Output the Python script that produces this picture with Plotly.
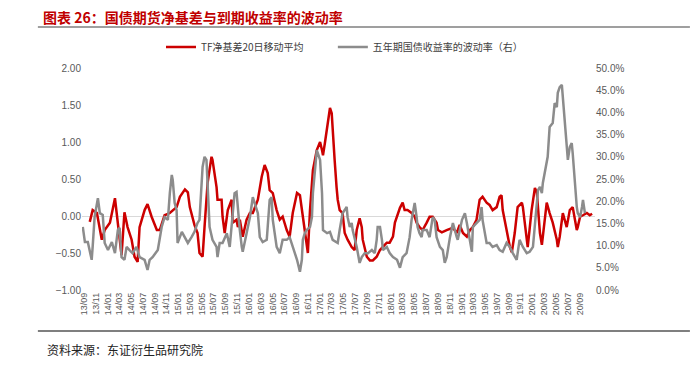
import plotly.graph_objects as go
import pandas as pd

# TF net basis, 20-day moving average (left axis)
red_dates = [
    "2013-10-01","2013-10-16","2013-11-07","2013-12-02","2013-12-17","2014-01-13","2014-02-08","2014-03-04",
    "2014-03-14","2014-03-29","2014-04-14","2014-05-05","2014-05-20","2014-06-05","2014-06-15","2014-07-11",
    "2014-07-26","2014-08-16","2014-09-12","2014-09-27","2014-10-22","2014-11-18","2014-12-23","2015-01-09",
    "2015-02-04","2015-02-19","2015-03-01","2015-03-25","2015-04-10","2015-04-20","2015-05-06","2015-05-16",
    "2015-06-01","2015-06-21","2015-06-26","2015-07-17","2015-07-22","2015-08-12","2015-08-17","2015-08-28",
    "2015-09-13","2015-10-03","2015-10-08","2015-10-28","2015-11-04","2015-11-14","2015-11-29","2015-12-19",
    "2016-01-05","2016-01-20","2016-02-15","2016-03-06","2016-03-21","2016-04-06","2016-04-16","2016-05-02",
    "2016-05-22","2016-06-07","2016-06-22","2016-07-13","2016-07-28","2016-08-13","2016-09-04","2016-09-19",
    "2016-10-04","2016-10-24","2016-10-30","2016-11-10","2016-11-25","2016-12-15","2017-01-01","2017-01-11",
    "2017-01-16","2017-01-26","2017-02-06","2017-02-21","2017-03-02","2017-03-07","2017-03-17","2017-03-27",
    "2017-04-02","2017-04-12","2017-04-27","2017-05-08","2017-05-23","2017-06-13","2017-06-28","2017-07-09",
    "2017-07-24","2017-08-04","2017-08-09","2017-08-30","2017-09-15","2017-09-30","2017-10-20","2017-11-06",
    "2017-11-21","2017-12-11","2017-12-26","2018-01-12","2018-01-22","2018-02-07","2018-02-17","2018-03-03",
    "2018-03-13","2018-03-28","2018-04-18","2018-05-04","2018-05-14","2018-05-29","2018-06-14","2018-07-05",
    "2018-07-20","2018-08-05","2018-08-25","2018-09-01","2018-09-21","2018-10-16","2018-11-17","2018-12-07",
    "2018-12-22","2019-01-08","2019-01-28","2019-02-13","2019-02-28","2019-03-19","2019-04-04","2019-04-19",
    "2019-05-10","2019-05-25","2019-06-10","2019-07-01","2019-07-16","2019-07-26","2019-08-01","2019-08-21",
    "2019-09-07","2019-09-17","2019-10-02","2019-10-17","2019-11-08","2019-11-13","2019-12-03","2019-12-08",
    "2019-12-28","2020-01-14","2020-01-24","2020-01-30","2020-02-09","2020-02-19","2020-02-24","2020-03-15",
    "2020-03-30","2020-04-15","2020-05-06","2020-05-11","2020-05-21","2020-06-06","2020-06-26","2020-07-12",
    "2020-07-27","2020-08-17","2020-08-22","2020-09-03","2020-09-18","2020-10-08","2020-10-23","2020-11-04",
]
red_values = [
    -0.08, 0.08, 0.04, -0.32, -0.19, -0.09, 0.24, -0.32,
    -0.53, 0.05, -0.15, -0.32, -0.55, -0.62, -0.15, 0.08,
    0.16, -0.01, -0.19, -0.19, 0.01, 0.04, 0.12, 0.26,
    0.36, 0.32, 0.12, -0.12, -0.23, -0.50, -0.55, -0.15,
    0.45, 0.80, 0.76, 0.39, 0.22, 0.22, -0.01, -0.23,
    0.08, 0.22, -0.09, -0.05, -0.15, -0.05, -0.28, -0.05,
    0.04, 0.04, 0.22, 0.53, 0.69, 0.58, 0.35, 0.31,
    0.08, -0.05, -0.01, -0.19, -0.28, 0.04, 0.31, 0.28,
    -0.01, -0.36, -0.50, 0.08, 0.62, 0.89, 1.00, 0.89,
    0.82, 0.99, 1.20, 1.46, 1.39, 1.12, 0.76, 0.39,
    0.22, 0.08, 0.04, -0.23, -0.32, -0.42, -0.46, -0.19,
    -0.03, -0.15, -0.32, -0.55, -0.60, -0.60, -0.55, -0.46,
    -0.42, -0.36, -0.36, -0.28, -0.09, 0.04, 0.11, 0.18,
    0.08, 0.08, 0.04, -0.01, -0.09, -0.15, -0.19, -0.09,
    -0.01, -0.01, -0.09, -0.19, -0.22, -0.19, -0.16, -0.23,
    -0.12, -0.23, -0.28, -0.19, -0.15, -0.05, 0.22, 0.26,
    0.18, 0.15, 0.08, 0.12, 0.26, 0.28, 0.08, -0.19,
    -0.42, -0.49, -0.23, 0.12, 0.18, 0.12, -0.36, -0.42,
    0.08, 0.38, 0.32, 0.08, -0.23, -0.39, -0.28, 0.18,
    0.04, -0.09, -0.32, -0.42, -0.28, 0.04, -0.15, 0.08,
    0.12, -0.19, -0.15, -0.01, 0.01, 0.04, 0.01, 0.03,
]

# Five-year treasury yield volatility, % (right axis)
gray_dates = [
    "2013-08-26","2013-09-06","2013-09-21","2013-10-11","2013-10-16","2013-10-26","2013-11-12","2013-11-22",
    "2013-12-07","2013-12-17","2014-01-03","2014-01-23","2014-02-08","2014-02-23","2014-03-04","2014-03-14",
    "2014-03-29","2014-04-09","2014-04-24","2014-05-10","2014-05-30","2014-06-15","2014-07-11","2014-07-26",
    "2014-08-06","2014-08-21","2014-09-17","2014-09-27","2014-10-07","2014-10-22","2014-11-08","2014-11-18",
    "2014-11-28","2014-12-03","2014-12-13","2014-12-23","2014-12-28","2015-01-19","2015-02-04","2015-02-19",
    "2015-03-10","2015-03-25","2015-04-10","2015-04-20","2015-05-06","2015-05-16","2015-05-26","2015-06-01",
    "2015-06-11","2015-06-26","2015-07-17","2015-07-22","2015-08-02","2015-08-17","2015-09-08","2015-09-23",
    "2015-10-08","2015-10-18","2015-10-28","2015-11-04","2015-11-14","2015-11-24","2015-11-29","2015-12-19",
    "2016-01-05","2016-01-20","2016-01-30","2016-02-15","2016-02-25","2016-03-11","2016-04-01","2016-04-16",
    "2016-04-26","2016-05-02","2016-05-22","2016-06-07","2016-06-22","2016-07-13","2016-07-28","2016-08-13",
    "2016-09-04","2016-09-19","2016-09-29","2016-10-04","2016-10-14","2016-10-24","2016-11-10","2016-11-20",
    "2016-11-25","2016-12-15","2016-12-20","2017-01-01","2017-01-11","2017-01-16","2017-02-06","2017-02-21",
    "2017-03-07","2017-03-27","2017-04-02","2017-04-12","2017-04-22","2017-04-27","2017-05-08","2017-05-18",
    "2017-05-23","2017-06-03","2017-06-13","2017-06-18","2017-07-09","2017-07-24","2017-08-04","2017-08-19",
    "2017-09-05","2017-09-25","2017-10-10","2017-10-20","2017-10-25","2017-11-06","2017-11-16","2017-11-21",
    "2017-12-11","2017-12-26","2018-01-12","2018-02-02","2018-02-17","2018-03-03","2018-03-23","2018-03-28",
    "2018-04-08","2018-04-18","2018-04-23","2018-05-04","2018-05-14","2018-05-19","2018-05-29","2018-06-09",
    "2018-06-14","2018-07-05","2018-07-20","2018-08-05","2018-08-15","2018-08-25","2018-09-11","2018-09-26",
    "2018-10-06","2018-10-16","2018-11-02","2018-11-17","2018-12-07","2018-12-12","2019-01-03","2019-01-18",
    "2019-01-28","2019-02-13","2019-02-23","2019-02-28","2019-03-19","2019-04-04","2019-04-14","2019-04-19",
    "2019-05-10","2019-05-25","2019-06-10","2019-07-01","2019-07-16","2019-08-01","2019-08-21","2019-09-07",
    "2019-09-22","2019-10-12","2019-10-27","2019-11-13","2019-12-03","2019-12-18","2020-01-04","2020-01-24",
    "2020-01-30","2020-02-09","2020-02-19","2020-02-24","2020-03-05","2020-03-15","2020-03-20","2020-03-30",
    "2020-04-15","2020-04-25","2020-05-06","2020-05-11","2020-05-21","2020-06-01","2020-06-06","2020-06-16",
    "2020-06-26","2020-07-02","2020-07-12","2020-07-22","2020-07-27","2020-08-07","2020-08-17","2020-08-22",
    "2020-09-03","2020-09-13","2020-09-18","2020-09-28",
]
gray_values = [
    14.2, 10.8, 10.8, 6.8, 9.7, 16.4, 20.7, 17.3,
    16.9, 10.6, 9.0, 10.8, 8.3, 13.5, 14.0, 7.4,
    6.8, 9.7, 9.0, 8.3, 9.7, 7.4, 6.8, 4.5,
    6.8, 7.4, 9.0, 11.3, 14.2, 16.4, 15.8, 21.8,
    25.9, 24.8, 19.6, 18.0, 10.6, 13.1, 11.9, 10.6,
    11.9, 13.1, 15.1, 15.8, 27.7, 30.0, 29.3, 24.1,
    14.2, 11.3, 9.7, 7.4, 10.6, 10.6, 12.8, 9.7,
    17.3, 21.8, 22.1, 18.0, 13.5, 9.7, 8.6, 12.8,
    16.4, 20.9, 19.6, 17.3, 11.9, 10.8, 11.3, 20.3,
    20.9, 15.8, 9.7, 8.3, 11.3, 11.3, 11.9, 9.7,
    6.8, 4.1, 6.8, 11.3, 12.8, 13.5, 14.2, 16.4,
    21.8, 31.5, 30.8, 29.3, 21.8, 13.5, 12.8, 13.1,
    11.3, 10.8, 10.6, 13.5, 15.8, 17.3, 18.0, 18.7,
    16.4, 14.2, 15.1, 13.5, 9.7, 6.1, 7.4, 8.3,
    8.3, 9.0, 8.3, 11.3, 14.2, 14.2, 11.3, 9.0,
    9.7, 8.3, 7.4, 6.8, 5.0, 7.4, 8.3, 9.7,
    11.9, 15.8, 17.3, 19.6, 16.4, 14.2, 12.8, 11.9,
    13.5, 13.5, 11.9, 16.4, 15.8, 11.9, 9.7, 9.0,
    6.1, 7.4, 11.9, 15.1, 11.9, 11.3, 15.8, 17.3,
    15.1, 11.3, 8.6, 14.2, 15.1, 15.8, 18.7, 15.8,
    10.6, 10.6, 9.7, 10.1, 9.0, 8.6, 10.6, 9.7,
    8.3, 6.8, 11.3, 9.7, 8.3, 8.6, 9.7, 20.3,
    22.5, 23.2, 21.8, 24.1, 26.4, 28.6, 30.0, 36.7,
    37.6, 42.1, 41.2, 44.4, 45.7, 46.2, 43.5, 39.0,
    33.8, 29.3, 32.2, 33.1, 30.8, 23.2, 18.7, 17.3,
    16.4, 18.7, 20.3, 17.3,
]

series_names = ["TF净基差20日移动平均", "五年期国债收益率的波动率（右）"]
title_text = "图表 26：国债期货净基差与到期收益率的波动率"
source_text = "资料来源：东证衍生品研究院"
x_tick_first, x_tick_last = "2013-09-01", "2020-09-01"

RED = "#cc0000"
GRAY = "#8c8c8c"
TICK_FONT = dict(family="Liberation Sans, Arial, sans-serif", size=10, color="#595959")
LEGEND_FONT = dict(family="Noto Sans CJK SC, sans-serif", size=10, color="#404040")

x_ticks = pd.date_range(x_tick_first, x_tick_last, freq="2MS")

fig = go.Figure()
fig.add_trace(go.Scatter(x=red_dates, y=red_values, name=series_names[0], mode="lines",
                         line=dict(color=RED, width=2.5), yaxis="y", legend="legend"))
fig.add_trace(go.Scatter(x=gray_dates, y=gray_values, name=series_names[1], mode="lines",
                         line=dict(color=GRAY, width=2.5), yaxis="y2", legend="legend2"))

# the page body adds an 8px offset, so the figure is laid out 8px smaller
fig.update_layout(
    width=692, height=359,
    margin=dict(l=74, r=105, t=60, b=77, autoexpand=False),
    paper_bgcolor="white", plot_bgcolor="white",
    showlegend=True,
    legend=dict(orientation="h", x=0.154, y=1.095, xref="paper", yref="paper",
                xanchor="left", yanchor="middle", font=LEGEND_FONT,
                itemwidth=30, bgcolor="rgba(0,0,0,0)"),
    legend2=dict(orientation="h", x=0.489, y=1.095, xref="paper", yref="paper",
                 xanchor="left", yanchor="middle", font=LEGEND_FONT,
                 itemwidth=30, bgcolor="rgba(0,0,0,0)"),
    xaxis=dict(type="date", range=["2013-08-22", "2020-11-19"],
               tickmode="array", tickvals=list(x_ticks), ticktext=[d.strftime("%y/%m") for d in x_ticks],
               tickangle=-90, tickfont=dict(TICK_FONT, size=9),
               showgrid=False, zeroline=False, showline=False, ticks=""),
    yaxis=dict(range=[-1, 2], dtick=0.5, tickformat=".2f", tickfont=TICK_FONT,
               showgrid=False, zeroline=True, zerolinecolor="#d9d9d9", zerolinewidth=1,
               showline=False, ticks=""),
    yaxis2=dict(range=[0, 50], dtick=5, tickformat=".1f", ticksuffix="%", tickfont=TICK_FONT,
                overlaying="y", side="right", showgrid=False, zeroline=False, showline=False, ticks=""),
)

fig.add_annotation(text="<b>" + title_text + "</b>", xref="paper", yref="paper",
                   x=-0.078, y=1.23, xanchor="left", yanchor="middle", showarrow=False,
                   borderpad=0,
                   font=dict(family="Noto Sans CJK SC, serif", size=14, color="#c00000"))
fig.add_annotation(text=source_text, xref="paper", yref="paper",
                   x=-0.072, y=-0.266, xanchor="left", yanchor="middle", showarrow=False,
                   font=dict(family="Noto Sans CJK SC, serif", size=12, color="#222222"))

# header and footer rules
fig.add_shape(type="line", xref="paper", yref="paper", x0=-0.086, x1=1.185, y0=1.185, y1=1.185,
              line=dict(color="#7f7f7f", width=1.5))
fig.add_shape(type="line", xref="paper", yref="paper", x0=-0.086, x1=1.185, y0=-0.185, y1=-0.185,
              line=dict(color="#7f7f7f", width=2))

fig.write_html("out.html")
